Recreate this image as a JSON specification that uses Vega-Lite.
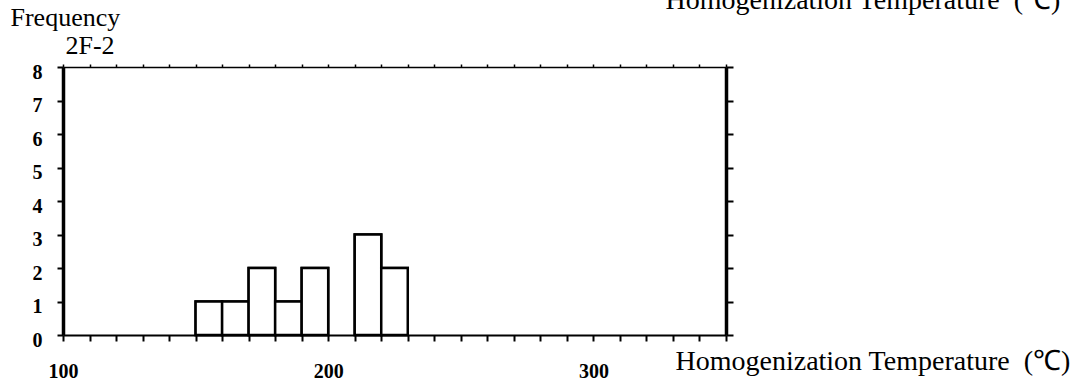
{
  "$schema": "https://vega.github.io/schema/vega-lite/v6.json",
  "width": 663,
  "height": 268,
  "autosize": {"type": "none"},
  "padding": {"left": 63, "top": 67, "right": 363, "bottom": 51},
  "background": "white",
  "config": {
    "view": {"stroke": null},
    "axis": {"grid": false, "domainColor": "black", "tickColor": "black", "labelColor": "black", "titleColor": "black", "labelFont": "Liberation Serif", "titleFont": "Liberation Serif"}
  },
  "data": {
    "values": [
      {"bin_start": 150, "bin_end": 160, "count": 1},
      {"bin_start": 160, "bin_end": 170, "count": 1},
      {"bin_start": 170, "bin_end": 180, "count": 2},
      {"bin_start": 180, "bin_end": 190, "count": 1},
      {"bin_start": 190, "bin_end": 200, "count": 2},
      {"bin_start": 210, "bin_end": 220, "count": 3},
      {"bin_start": 220, "bin_end": 230, "count": 2}
    ]
  },
  "resolve": {"axis": {"x": "independent", "y": "independent"}},
  "layer": [
    {
      "mark": {"type": "bar", "fill": "white", "stroke": "black", "strokeWidth": 2.5},
      "encoding": {
        "x": {
          "field": "bin_start", "type": "quantitative",
          "scale": {"domain": [100, 350], "nice": false, "zero": false},
          "axis": {
            "orient": "bottom",
            "values": [100,110,120,130,140,150,160,170,180,190,200,210,220,230,240,250,260,270,280,290,300,310,320,330,340,350],
            "labelExpr": "datum.value % 100 === 0 && datum.value < 350 ? datum.label : ''",
            "labelOverlap": false, "labelFlush": false,
            "tickSize": 6, "tickWidth": 2, "domainWidth": 2,
            "labelPadding": 20, "labelFontSize": 20, "labelFontWeight": "bold", "labelBaseline": "top",
            "title": "Homogenization Temperature\u2002(℃)",
            "titleFontSize": 28, "titleFontWeight": "normal",
            "titleAlign": "left", "titleBaseline": "alphabetic", "titleAnchor": null,
            "titleX": 612, "titleY": 34
          }
        },
        "x2": {"field": "bin_end"},
        "y": {
          "field": "count", "type": "quantitative",
          "scale": {"domain": [0, 8], "nice": false},
          "axis": {
            "orient": "left",
            "values": [0,1,2,3,4,5,6,7,8],
            "tickSize": 6, "tickWidth": 2, "domainWidth": 3.5,
            "labelPadding": 15, "labelFontSize": 20, "labelFontWeight": "bold", "labelOffset": 5,
            "title": "Frequency",
            "titleFontSize": 26, "titleFontWeight": "normal", "titleAngle": 0,
            "titleAlign": "left", "titleBaseline": "alphabetic", "titleAnchor": null,
            "titleX": -53, "titleY": -42
          }
        },
        "y2": {"datum": 0}
      }
    },
    {
      "mark": {"type": "bar", "fill": "white", "stroke": "black", "strokeWidth": 2.5},
      "encoding": {
        "x": {
          "field": "bin_start", "type": "quantitative",
          "scale": {"domain": [100, 350], "nice": false, "zero": false},
          "axis": {
            "orient": "top",
            "values": [100,110,120,130,140,150,160,170,180,190,200,210,220,230,240,250,260,270,280,290,300,310,320,330,340,350],
            "labels": false,
            "tickSize": 3, "tickWidth": 1.5, "domainWidth": 1.5,
            "title": "Homogenization Temperature\u2002(℃)",
            "titleFontSize": 28, "titleFontWeight": "normal",
            "titleAlign": "left", "titleBaseline": "alphabetic", "titleAnchor": null,
            "titleX": 602, "titleY": -59
          }
        },
        "x2": {"field": "bin_end"},
        "y": {
          "field": "count", "type": "quantitative",
          "scale": {"domain": [0, 8], "nice": false},
          "axis": {
            "orient": "right",
            "values": [0,1,2,3,4,5,6,7,8],
            "labels": false,
            "tickSize": 7, "tickWidth": 2, "domainWidth": 3.5,
            "title": "2F-2",
            "titleFontSize": 26, "titleFontWeight": "normal", "titleAngle": 0,
            "titleAlign": "left", "titleBaseline": "alphabetic", "titleAnchor": null,
            "titleX": -661, "titleY": -14
          }
        },
        "y2": {"datum": 0}
      }
    }
  ]
}
